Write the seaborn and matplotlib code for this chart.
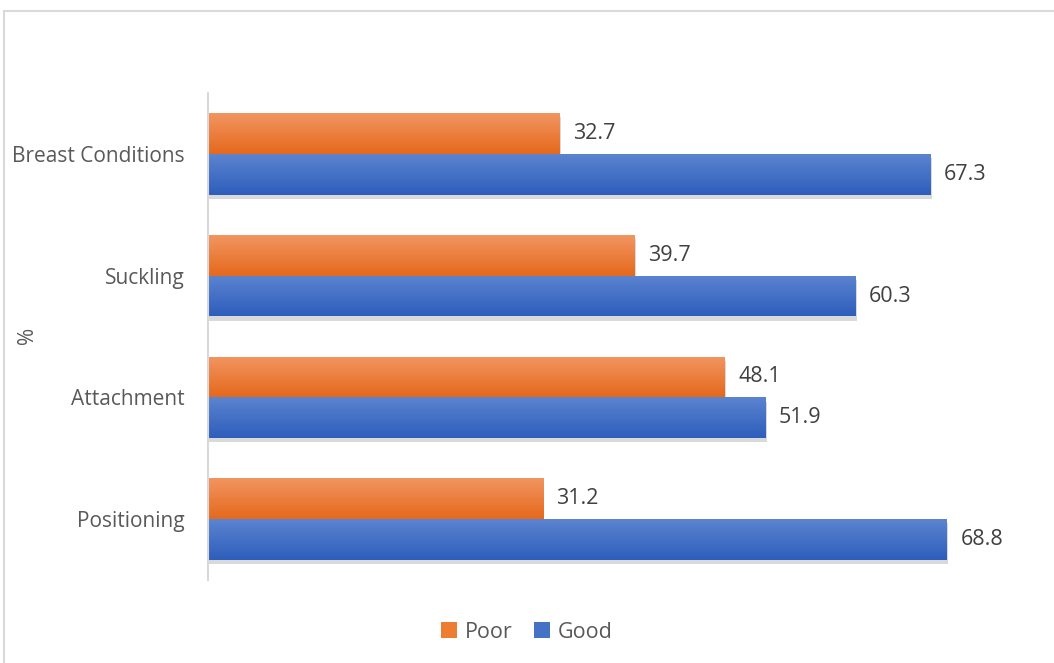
import numpy as np
import pandas as pd
import matplotlib
matplotlib.use("Agg")
import matplotlib.pyplot as plt
import matplotlib.patches as mpatches
import matplotlib.patheffects as pe
from matplotlib.colors import LinearSegmentedColormap
import seaborn as sns

categories = ["Breast Conditions", "Suckling", "Attachment", "Positioning"]
poor = [32.7, 39.7, 48.1, 31.2]
good = [67.3, 60.3, 51.9, 68.8]
series = ["Poor", "Good"]

df = pd.DataFrame({
    "Category": categories * 2,
    "Series": ["Poor"] * len(categories) + ["Good"] * len(categories),
    "Value": poor + good,
})

sns.set_theme(style="white")
plt.rcParams["font.family"] = ["Open Sans", "DejaVu Sans"]

W, H = 1054, 663
FS = 15
fig = plt.figure(figsize=(W / 100, H / 100), dpi=100)
ax = fig.add_axes([208 / W, 1 - 580 / H, (1035 - 208) / W, (580 - 93) / H])

colors = {"Poor": "#ED7D31", "Good": "#4472C4"}
grad = {"Poor": ("#F29561", "#E5691C"), "Good": ("#5B84D0", "#2E5EBC")}

sns.barplot(data=df, y="Category", x="Value", hue="Series", order=categories,
            hue_order=series, palette=colors, orient="h", width=0.67, gap=0,
            ax=ax, legend=False, saturation=1, linewidth=0)

ax.set_xlim(0, 77)
ax.set_ylim(len(categories) - 0.5, -0.5)

# gradient fill and shadow for bars
bars = [p for p in ax.patches if isinstance(p, mpatches.Rectangle)]
for i, p in enumerate(bars):
    s = series[i // len(categories)]
    x0, y0 = p.get_x(), p.get_y()
    w, h = p.get_width(), p.get_height()
    p.set_linewidth(0)
    p.set_edgecolor("none")
    p.set_path_effects([pe.SimplePatchShadow(offset=(1.0, -3), shadow_rgbFace="#000000", alpha=0.15), pe.Normal()])
    cmap = LinearSegmentedColormap.from_list("g", [grad[s][0], grad[s][1]])
    g = np.linspace(0, 1, 64).reshape(-1, 1)
    im = ax.imshow(g, cmap=cmap, extent=(x0, x0 + w, y0 + h, y0), aspect="auto",
                   origin="upper", zorder=p.get_zorder() + 0.1, interpolation="bilinear")
    im.set_clip_path(p)
    ax.text(x0 + w + 1.25, y0 + h / 2, f"{w:.1f}", va="center", ha="left",
            fontsize=FS + 0.5, color="#404040", zorder=5)

ax.set_xlim(0, 77)
ax.set_ylim(len(categories) - 0.5, -0.5)

for sp in ["top", "right", "bottom"]:
    ax.spines[sp].set_visible(False)
ax.spines["left"].set_color("#D9D9D9")
ax.spines["left"].set_linewidth(1.5)
ax.set_xticks([])
ax.set_xlabel("")
ax.set_ylabel("")
ax.tick_params(axis="y", length=0, pad=17, labelsize=FS, labelcolor="#595959")

fig.text(28 / W, 1 - 335 / H, "%", rotation=90, ha="center", va="center",
         fontsize=FS, color="#595959")

handles = [mpatches.Patch(facecolor=colors[s], label=s, linewidth=0) for s in series]
fig.legend(handles=handles, loc="center", bbox_to_anchor=(0.5, 1 - 632 / H), ncol=2,
           frameon=False, handlelength=0.75, handleheight=0.75, handletextpad=0.35,
           columnspacing=1.0, fontsize=FS + 0.5, labelcolor="#595959")

fig.patches.append(mpatches.Rectangle((4 / W, -0.02), 1.0, 1 - 11 / H + 0.02,
                                      transform=fig.transFigure, fill=False,
                                      edgecolor="#D9D9D9", linewidth=1.5))

fig.savefig("out.png", dpi=100)
